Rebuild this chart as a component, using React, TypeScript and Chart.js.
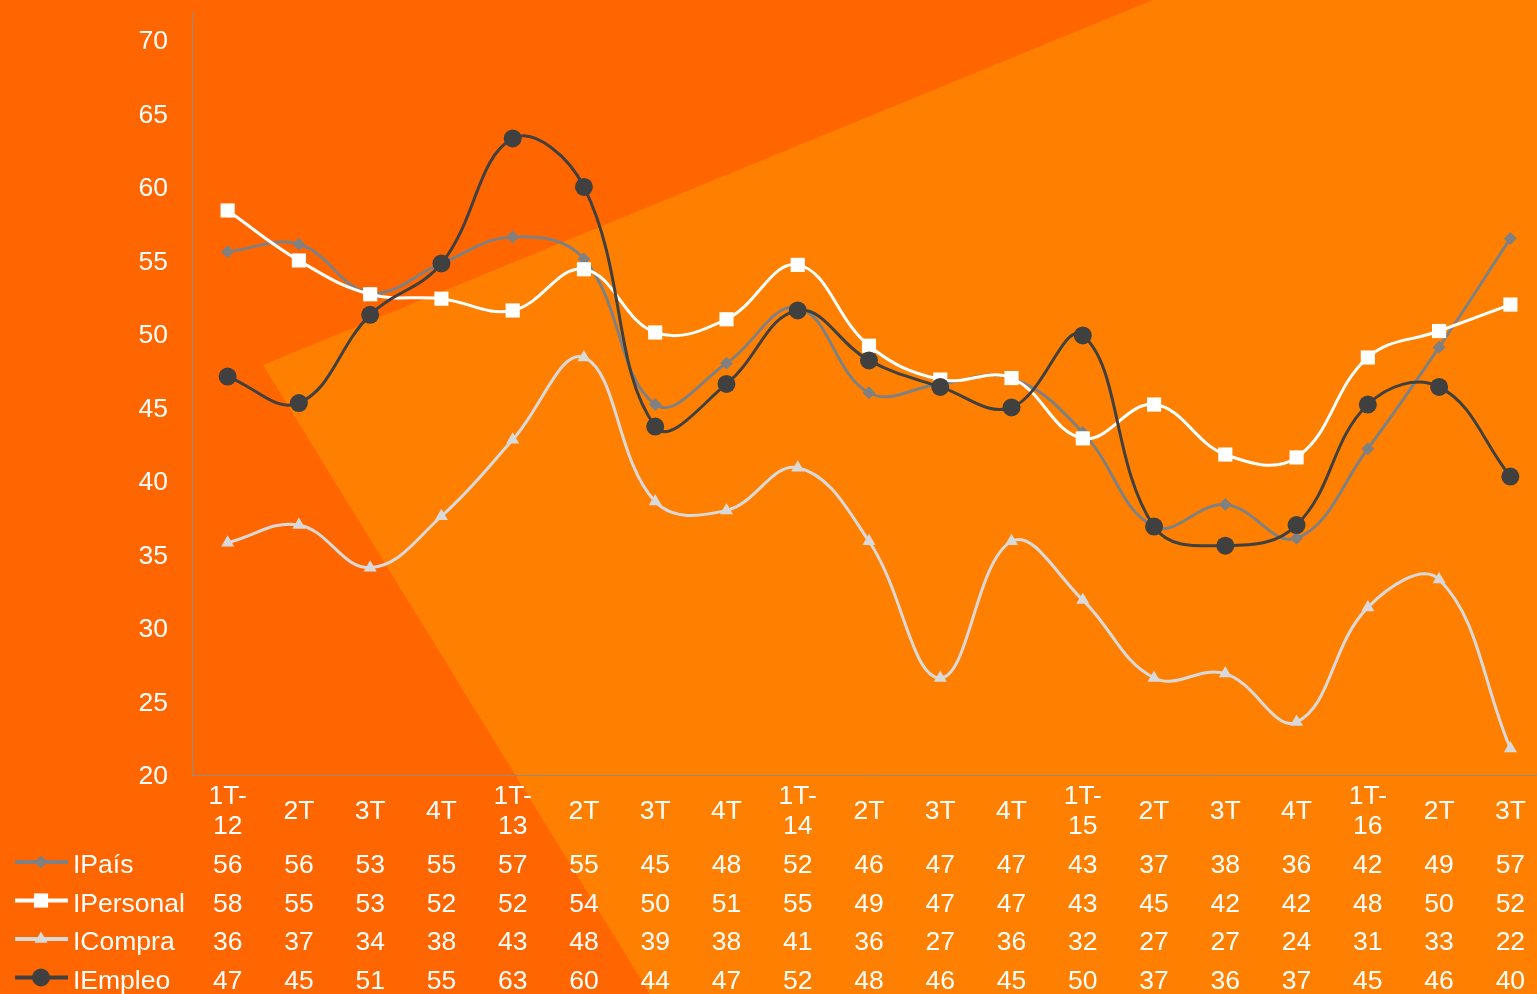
import React, { useEffect, useRef } from 'react';
import { Chart, registerables } from 'chart.js';
import { drawPoint } from 'chart.js/helpers';

Chart.register(...registerables);

// ---- data ----
const categories: (string | string[])[] = [
  ['1T-', '12'], '2T', '3T', '4T',
  ['1T-', '13'], '2T', '3T', '4T',
  ['1T-', '14'], '2T', '3T', '4T',
  ['1T-', '15'], '2T', '3T', '4T',
  ['1T-', '16'], '2T', '3T',
];

const iPais = [55.6, 56.1, 52.8, 54.8, 56.6, 55.1, 45.2, 48.0, 51.8, 46.0, 46.6, 47.0, 43.3, 36.9, 38.4, 36.1, 42.2, 49.1, 56.5];
const iPersonal = [58.4, 55.0, 52.7, 52.4, 51.6, 54.4, 50.1, 51.0, 54.7, 49.2, 46.9, 47.0, 42.9, 45.2, 41.8, 41.6, 48.4, 50.2, 52.0];
const iCompra = [35.8, 37.0, 34.1, 37.6, 42.8, 48.4, 38.6, 38.0, 40.9, 35.9, 26.6, 35.9, 31.9, 26.6, 26.9, 23.6, 31.4, 33.3, 21.8];
const iEmpleo = [47.1, 45.3, 51.3, 54.8, 63.3, 60.0, 43.7, 46.6, 51.6, 48.2, 46.4, 45.0, 49.9, 36.9, 35.6, 37.0, 45.2, 46.4, 40.3];

const yTickValues = [20, 25, 30, 35, 40, 45, 50, 55, 60, 65, 70];

const FONT = '"Liberation Sans", Arial, Helvetica, sans-serif';
const FONT_SIZE = 26.5;

const backgroundPlugin = {
  id: 'orangeBackground',
  beforeDraw(chart: any) {
    const { ctx, width, height } = chart;
    ctx.save();
    ctx.fillStyle = '#FF6600';
    ctx.fillRect(0, 0, width, height);
    ctx.fillStyle = '#FF8000';
    ctx.beginPath();
    ctx.moveTo(263, 365);
    ctx.lineTo(1153, 0);
    ctx.lineTo(width, 0);
    ctx.lineTo(width, height);
    ctx.lineTo(650, height);
    ctx.closePath();
    ctx.fill();
    ctx.restore();
  },
};

const tablePlugin = {
  id: 'dataTable',
  afterDraw(chart: any) {
    const { ctx, chartArea, scales } = chart;
    const xs = scales.x;
    const ys = scales.y;
    ctx.save();
    ctx.font = `${FONT_SIZE}px ${FONT}`;
    ctx.textBaseline = 'middle';
    // y-axis tick labels
    ctx.fillStyle = '#FFFFFF';
    ctx.textAlign = 'right';
    yTickValues.forEach((v) => {
      ctx.fillText(String(v), ys.left + ys.width - 24, ys.getPixelForValue(v) + 2);
    });
    chart.data.datasets.forEach((ds: any, r: number) => {
      const y = chartArea.bottom + 91 + r * 38.5;
      // legend key
      ctx.strokeStyle = ds.borderColor;
      ctx.lineWidth = 4;
      ctx.beginPath();
      ctx.moveTo(15, y - 4);
      ctx.lineTo(68, y - 4);
      ctx.stroke();
      ctx.fillStyle = ds.borderColor;
      drawPoint(ctx, { pointStyle: ds.pointStyle, radius: ds.pointRadius, rotation: 0, borderWidth: 0 } as any, 41, y - 4);
      // label
      ctx.fillStyle = '#FFFFFF';
      ctx.textAlign = 'left';
      ctx.fillText(ds.label, 73, y);
      // values
      ctx.textAlign = 'center';
      ds.data.forEach((v: number, i: number) => {
        ctx.fillText(String(Math.round(v)), xs.getPixelForValue(i), y);
      });
    });
    ctx.restore();
  },
};

export default function App() {
  const ref = useRef<HTMLCanvasElement>(null);

  useEffect(() => {
    if (!ref.current) return;
    Chart.defaults.font.family = FONT;
    const common = { borderWidth: 3, tension: 0.4, pointBorderWidth: 0, fill: false };
    const chart = new Chart(ref.current, {
      type: 'line',
      data: {
        labels: categories as any,
        datasets: [
          { ...common, label: 'IPaís', data: iPais, borderColor: '#808080', backgroundColor: '#808080', pointBackgroundColor: '#808080', pointStyle: 'rectRot', pointRadius: 6.5, order: 3 },
          { ...common, label: 'IPersonal', data: iPersonal, borderColor: '#FFFFFF', backgroundColor: '#FFFFFF', pointBackgroundColor: '#FFFFFF', pointStyle: 'rect', pointRadius: 10, order: 2 },
          { ...common, label: 'ICompra', data: iCompra, borderColor: '#D9D9D9', backgroundColor: '#D9D9D9', pointBackgroundColor: '#D9D9D9', pointStyle: 'triangle', pointRadius: 7.5, order: 1 },
          { ...common, label: 'IEmpleo', data: iEmpleo, borderColor: '#404040', backgroundColor: '#404040', pointBackgroundColor: '#404040', pointStyle: 'circle', pointRadius: 9, order: 0 },
        ] as any,
      },
      options: {
        responsive: false,
        maintainAspectRatio: false,
        animation: false,
        events: [],
        layout: { autoPadding: false, padding: { top: 12, left: 0, right: 0, bottom: 0 } },
        plugins: {
          legend: { display: false },
          tooltip: { enabled: false },
        },
        scales: {
          x: {
            type: 'category',
            offset: true,
            grid: { display: false, drawTicks: false },
            border: { display: true, color: '#8C8C8C', width: 1 },
            ticks: {
              color: '#FFFFFF',
              font: { size: FONT_SIZE, family: FONT, lineHeight: '30px' },
              autoSkip: false,
              maxRotation: 0,
              minRotation: 0,
              padding: 22,
              crossAlign: 'center',
            },
            afterFit: (s: any) => {
              s.height = 219;
              s.paddingLeft = 0;
              s.paddingRight = 0;
              s.paddingTop = 0;
              s.paddingBottom = 0;
            },
          },
          y: {
            type: 'linear',
            min: 20,
            max: 71.9,
            grid: { display: false, drawTicks: false },
            border: { display: true, color: '#8C8C8C', width: 1 },
            ticks: {
              display: false,
              font: { size: FONT_SIZE, family: FONT },
            },
            afterBuildTicks: (s: any) => {
              s.ticks = yTickValues.map((v) => ({ value: v }));
            },
            afterFit: (s: any) => {
              s.width = 192;
              s.paddingLeft = 0;
              s.paddingRight = 0;
              s.paddingTop = 0;
              s.paddingBottom = 0;
            },
          },
        },
      } as any,
      plugins: [backgroundPlugin, tablePlugin],
    });
    return () => chart.destroy();
  }, []);

  return (
    <div
      style={{
        position: 'fixed',
        left: 0,
        top: 0,
        width: 1537,
        height: 994,
        overflow: 'hidden',
        background: '#FF6600',
      }}
    >
      <div style={{ position: 'absolute', left: 0, top: 0, width: 1546, height: 994 }}>
        <canvas ref={ref} width={1546} height={994} style={{ display: 'block', width: 1546, height: 994 }} />
      </div>
    </div>
  );
}
